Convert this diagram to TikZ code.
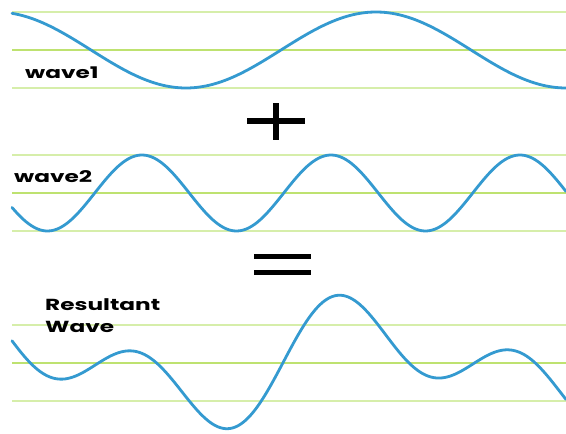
\documentclass[tikz,border=0pt]{standalone}
\usepackage{fontspec}
\newfontfamily\lblfont{Poppins}[FakeStretch=1.45]
\usetikzlibrary{positioning}
\definecolor{wc}{RGB}{52,154,208}
\definecolor{gc}{RGB}{190,226,112}
\definecolor{pc}{RGB}{214,238,170}
\tikzset{wave/.style={draw=wc,line width=2.8pt,line cap=round},
 mid/.style={draw=gc,line width=2pt},
 edge/.style={draw=pc,line width=1.8pt},
 sign/.style={draw=black,line width=5.5pt},
 lbl/.style={anchor=west,inner sep=0pt,align=left,font=\lblfont\bfseries\fontsize{16}{22}\selectfont}}
\begin{document}
\begin{tikzpicture}[x=1pt,y=-1pt]
\useasboundingbox[fill=white] (0,0) rectangle (566,434);
% guide lines
\foreach \c in {50,193,363}{
 \draw[edge] (12,\c-38) -- (566,\c-38);
 \draw[mid] (12,\c) -- (566,\c);
 \draw[edge] (12,\c+38) -- (566,\c+38);
}
% waves
\draw[wave] plot[domain=12:566,samples=160,smooth] (\x,{50-38*cos((\x-376)/380*360)});
\draw[wave] plot[domain=12:566,samples=200,smooth] (\x,{193-38*cos((\x-331)/189*360)});
\draw[wave] plot[domain=12:566,samples=240,smooth] (\x,{363-38*cos((\x-376)/380*360)-38*cos((\x-331)/189*360)});
% labels
\node[lbl] (w1) at (25,73) {wave1};
\node[lbl] (w2) at (14,177) {wave2};
\node[lbl] (res) at (45,316) {Resultant\\Wave};
% plus and equals
\draw[sign] (247,121) -- (305,121);
\draw[sign] (276,103) -- (276,140);
\draw[sign,line width=5pt] (254,256) -- (311,256);
\draw[sign,line width=5pt] (254,272) -- (311,272);
\end{tikzpicture}
\end{document}
